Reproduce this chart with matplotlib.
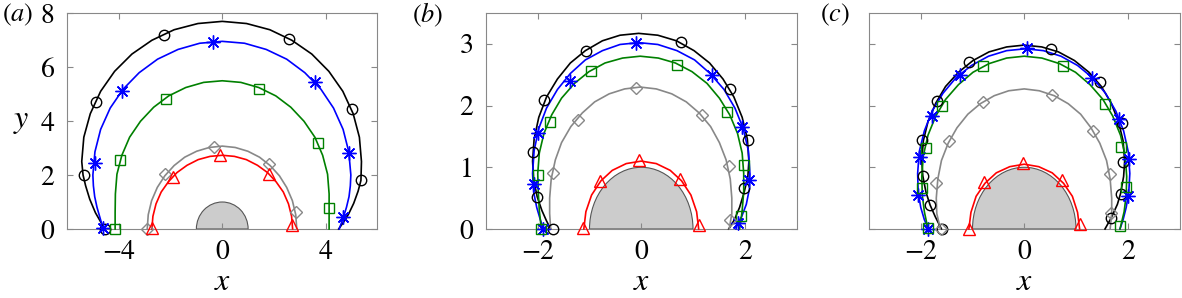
import numpy as np
import matplotlib.pyplot as plt
from matplotlib.patches import Wedge

plt.rcParams['font.family'] = ['STIXGeneral', 'DejaVu Serif']
plt.rcParams['mathtext.fontset'] = 'stix'

# ---------------- panel (a) ----------------
a_black_x = [-4.55, -4.72, -4.9, -5.12, -5.28, -5.38, -5.43, -5.35, -5.10, -4.70, -4.16, -3.49, -2.72, -1.86, -0.94, 0.0,
             0.94, 1.84, 2.69, 3.46, 4.12, 4.66, 5.06, 5.30, 5.38, 5.36, 5.25, 5.08, 4.88, 4.72, 4.5]
a_black_y = [0.0, 0.3, 0.6, 1.1, 1.6, 2.0, 2.5, 3.40, 4.27, 5.10, 5.84, 6.48, 6.99, 7.38, 7.61, 7.69,
             7.61, 7.38, 6.99, 6.48, 5.84, 5.10, 4.27, 3.40, 2.5, 1.8, 1.4, 0.95, 0.55, 0.3, 0.0]
a_black_mx = [-4.52, -5.34, -4.89, -2.24, 2.58, 5.02, 5.36]
a_black_my = [0.0, 2.0, 4.7, 7.2, 7.04, 4.46, 1.8]

a_blue_x = [-4.6, -4.72, -4.84, -4.93, -4.98, -5.0, -4.92, -4.70, -4.33, -3.83, -3.21, -2.5, -1.71, -0.87, 0.0,
            0.86, 1.70, 2.49, 3.19, 3.81, 4.30, 4.67, 4.89, 4.97, 4.95, 4.9, 4.8, 4.67, 4.52]
a_blue_y = [0.0, 0.4, 0.8, 1.2, 1.6, 2.0, 2.86, 3.69, 4.48, 5.18, 5.79, 6.29, 6.65, 6.88, 6.95,
            6.88, 6.65, 6.29, 5.79, 5.18, 4.48, 3.69, 2.86, 2.0, 1.6, 1.2, 0.8, 0.4, 0.0]
a_blue_mx = [-4.6, -4.93, -3.88, -0.37, 3.57, 4.9, 4.65]
a_blue_my = [0.05, 2.45, 5.12, 6.91, 5.45, 2.83, 0.43]

a_green_x = [-4.14, -4.14, -4.13, -4.07, -3.88, -3.58, -3.16, -2.65, -2.07, -1.41, -0.72, 0.0,
             0.72, 1.41, 2.07, 2.65, 3.16, 3.58, 3.88, 4.07, 4.13, 4.13, 4.13]
a_green_y = [0.0, 0.6, 1.3, 2.03, 2.73, 3.40, 3.99, 4.51, 4.93, 5.24, 5.43, 5.49,
             5.43, 5.24, 4.93, 4.51, 3.99, 3.40, 2.73, 2.03, 1.3, 0.6, 0.0]
a_green_mx = [-4.14, -3.96, -2.17, 1.41, 3.69, 4.12]
a_green_my = [0.01, 2.57, 4.82, 5.2, 3.2, 0.76]

a_gray_x = [-2.9, -2.86, -2.73, -2.51, -2.22, -1.86, -1.45, -0.99, -0.50, 0.0,
            0.50, 0.99, 1.44, 1.85, 2.21, 2.49, 2.71, 2.84, 2.88]
a_gray_y = [0.0, 0.53, 1.05, 1.54, 1.97, 2.35, 2.66, 2.88, 3.02, 3.07,
            3.02, 2.88, 2.66, 2.35, 1.97, 1.54, 1.05, 0.53, 0.0]
a_gray_mx = [-2.89, -2.23, -0.3, 1.8, 2.84]
a_gray_my = [0.01, 2.04, 3.04, 2.39, 0.62]

a_red_x = [-2.72, -2.68, -2.56, -2.36, -2.08, -1.75, -1.36, -0.93, -0.47, 0.0,
           0.47, 0.93, 1.36, 1.75, 2.08, 2.36, 2.56, 2.68, 2.72]
a_red_y = [0.0, 0.47, 0.93, 1.37, 1.75, 2.09, 2.36, 2.57, 2.69, 2.73,
           2.69, 2.57, 2.36, 2.09, 1.75, 1.37, 0.93, 0.47, 0.0]
a_red_mx = [-2.72, -1.92, -0.07, 1.8, 2.71]
a_red_my = [0.05, 1.93, 2.73, 2.02, 0.15]

# ---------------- panel (b) ----------------
b_black_x = [-1.75, -1.83, -1.92, -2.01, -2.08, -2.1, -2.07, -1.98, -1.83, -1.62, -1.37, -1.08, -0.75, -0.41, -0.05,
             0.32, 0.68, 1.02, 1.32, 1.58, 1.79, 1.95, 2.05, 2.08, 2.06, 1.99, 1.9, 1.8, 1.69]
b_black_y = [0.0, 0.13, 0.3, 0.52, 0.8, 1.1, 1.46, 1.81, 2.14, 2.43, 2.69, 2.89, 3.05, 3.14, 3.17,
             3.14, 3.05, 2.89, 2.69, 2.43, 2.14, 1.81, 1.46, 1.1, 0.85, 0.6, 0.35, 0.15, 0.0]
b_black_mx = [-1.71, -2.01, -2.1, -1.88, -1.06, 0.76, 1.72, 2.06, 1.99]
b_black_my = [0.0, 0.52, 1.24, 2.09, 2.89, 3.03, 2.27, 1.45, 0.67]

b_blue_x = [-1.89, -1.95, -2.02, -2.08, -2.1, -2.07, -1.98, -1.83, -1.62, -1.37, -1.08, -0.75, -0.41, -0.05,
            0.32, 0.69, 1.03, 1.33, 1.60, 1.81, 1.97, 2.07, 2.10, 2.09, 2.03, 1.94, 1.86, 1.83]
b_blue_y = [0.0, 0.15, 0.35, 0.6, 0.9, 1.27, 1.63, 1.96, 2.26, 2.52, 2.74, 2.89, 2.99, 3.02,
            2.99, 2.89, 2.74, 2.52, 2.26, 1.96, 1.63, 1.27, 0.9, 0.65, 0.4, 0.2, 0.09, 0.0]
b_blue_mx = [-1.89, -2.08, -2.0, -1.38, -0.11, 1.37, 1.95, 2.09, 1.86]
b_blue_my = [0.0, 0.73, 1.56, 2.4, 3.02, 2.5, 1.65, 0.79, 0.09]

b_green_x = [-1.93, -1.97, -1.99, -2.0, -1.97, -1.88, -1.73, -1.54, -1.29, -1.01, -0.70, -0.36, -0.02,
             0.33, 0.66, 0.98, 1.27, 1.51, 1.71, 1.86, 1.95, 1.98, 1.98, 1.95, 1.92, 1.9]
b_green_y = [0.0, 0.3, 0.6, 0.9, 1.23, 1.55, 1.85, 2.12, 2.36, 2.55, 2.69, 2.77, 2.8,
             2.77, 2.69, 2.55, 2.36, 2.12, 1.85, 1.55, 1.23, 0.9, 0.6, 0.3, 0.1, 0.0]
b_green_mx = [-1.93, -2.0, -1.77, -0.97, 0.69, 1.65, 1.98, 1.93]
b_green_my = [0.0, 0.87, 1.74, 2.56, 2.66, 1.9, 1.03, 0.21]

b_gray_x = [-1.75, -1.77, -1.77, -1.74, -1.66, -1.54, -1.36, -1.14, -0.90, -0.62, -0.32, -0.02,
            0.29, 0.59, 0.87, 1.12, 1.34, 1.51, 1.64, 1.72, 1.75, 1.75, 1.72, 1.7]
b_gray_y = [0.0, 0.25, 0.5, 0.81, 1.12, 1.4, 1.66, 1.88, 2.06, 2.19, 2.27, 2.3,
            2.27, 2.19, 2.06, 1.88, 1.66, 1.4, 1.12, 0.81, 0.5, 0.25, 0.1, 0.0]
b_gray_mx = [-1.71, -1.22, -0.11, 1.18, 1.69, 1.72]
b_gray_my = [0.91, 1.76, 2.29, 1.85, 1.02, 0.15]

b_red_x = [-1.11, -1.07, -0.96, -0.78, -0.56, -0.29, 0.0, 0.29, 0.56, 0.78, 0.96, 1.07, 1.11]
b_red_y = [0.0, 0.28, 0.55, 0.78, 0.95, 1.06, 1.1, 1.06, 0.95, 0.78, 0.55, 0.28, 0.0]
b_red_mx = [-1.13, -0.79, -0.05, 0.74, 1.11]
b_red_my = [0.01, 0.78, 1.12, 0.81, 0.06]

# ---------------- panel (c) ----------------
c_black_x = [-1.6, -1.72, -1.82, -1.9, -1.96, -1.98, -1.95, -1.86, -1.71, -1.52, -1.27, -0.99, -0.68, -0.34, 0.0,
             0.34, 0.66, 0.97, 1.25, 1.49, 1.68, 1.82, 1.91, 1.94, 1.92, 1.86, 1.8, 1.68, 1.56]
c_black_y = [0.0, 0.2, 0.39, 0.6, 0.86, 1.1, 1.43, 1.74, 2.04, 2.31, 2.54, 2.73, 2.87, 2.95, 2.98,
             2.95, 2.87, 2.73, 2.54, 2.31, 2.04, 1.74, 1.43, 1.1, 0.85, 0.57, 0.4, 0.18, 0.0]
c_black_mx = [-1.58, -1.82, -1.95, -1.97, -1.68, -1.06, 0.52, 1.46, 1.88, 1.91, 1.86, 1.68]
c_black_my = [0.0, 0.39, 0.86, 1.45, 2.07, 2.7, 2.92, 2.38, 1.71, 1.09, 0.57, 0.18]

c_blue_x = [-1.85, -1.93, -2.0, -2.05, -2.06, -2.03, -1.93, -1.78, -1.57, -1.32, -1.02, -0.69, -0.34, 0.02,
            0.37, 0.71, 1.03, 1.32, 1.57, 1.77, 1.92, 2.01, 2.04, 2.02, 1.97, 1.91, 1.85]
c_blue_y = [0.0, 0.15, 0.35, 0.6, 0.9, 1.25, 1.59, 1.91, 2.2, 2.45, 2.65, 2.8, 2.89, 2.92,
            2.89, 2.8, 2.65, 2.45, 2.2, 1.91, 1.59, 1.25, 0.9, 0.6, 0.35, 0.15, 0.0]
c_blue_mx = [-1.86, -2.05, -2.02, -1.79, -1.24, 0.06, 1.31, 1.84, 2.02, 2.0]
c_blue_my = [0.0, 0.55, 1.17, 1.83, 2.49, 2.93, 2.45, 1.78, 1.13, 0.53]

c_green_x = [-1.86, -1.93, -1.97, -1.98, -1.95, -1.86, -1.71, -1.52, -1.27, -0.99, -0.68, -0.34, 0.0,
             0.34, 0.68, 0.99, 1.27, 1.52, 1.71, 1.86, 1.95, 1.98, 1.97, 1.93, 1.85]
c_green_y = [0.0, 0.28, 0.55, 0.85, 1.19, 1.52, 1.83, 2.1, 2.34, 2.54, 2.68, 2.77, 2.8,
             2.77, 2.68, 2.54, 2.34, 2.1, 1.83, 1.52, 1.19, 0.85, 0.55, 0.28, 0.0]
c_green_mx = [-1.86, -1.97, -1.9, -1.58, -0.8, 0.75, 1.56, 1.87, 1.97, 1.85]
c_green_my = [0.02, 0.66, 1.32, 2.0, 2.64, 2.64, 2.02, 1.33, 0.68, 0.05]

c_gray_x = [-1.62, -1.69, -1.7, -1.67, -1.6, -1.47, -1.30, -1.09, -0.85, -0.58, -0.3, 0.0,
            0.29, 0.58, 0.85, 1.09, 1.29, 1.46, 1.59, 1.66, 1.69, 1.69, 1.66]
c_gray_y = [0.0, 0.25, 0.5, 0.81, 1.11, 1.39, 1.64, 1.86, 2.03, 2.16, 2.24, 2.27,
            2.24, 2.16, 2.03, 1.86, 1.64, 1.39, 1.11, 0.81, 0.5, 0.25, 0.0]
c_gray_mx = [-1.6, -1.7, -1.46, -0.8, 0.54, 1.33, 1.65, 1.68]
c_gray_my = [0.0, 0.75, 1.42, 2.05, 2.17, 1.59, 0.89, 0.26]

c_red_x = [-1.07, -1.03, -0.93, -0.76, -0.54, -0.28, 0.0, 0.28, 0.54, 0.76, 0.93, 1.03, 1.07]
c_red_y = [0.0, 0.27, 0.53, 0.74, 0.91, 1.01, 1.05, 1.01, 0.91, 0.74, 0.53, 0.27, 0.0]
c_red_mx = [-1.07, -0.77, -0.03, 0.73, 1.07]
c_red_my = [0.0, 0.76, 1.07, 0.79, 0.08]

styles = [('k', 'o', 7.5), ('#0000ff', (8, 2, 0), 10), ('#008000', 's', 6.5),
          ('#888888', 'D', 6.5), ('#ff0000', '^', 8)]

panels = [
    ('a', [-6, 6], [0, 8], [-4, 0, 4], [0, 2, 4, 6, 8], True,
     [(a_black_x, a_black_y, a_black_mx, a_black_my),
      (a_blue_x, a_blue_y, a_blue_mx, a_blue_my),
      (a_green_x, a_green_y, a_green_mx, a_green_my),
      (a_gray_x, a_gray_y, a_gray_mx, a_gray_my),
      (a_red_x, a_red_y, a_red_mx, a_red_my)]),
    ('b', [-3, 3], [0, 3.5], [-2, 0, 2], [0, 1, 2, 3], True,
     [(b_black_x, b_black_y, b_black_mx, b_black_my),
      (b_blue_x, b_blue_y, b_blue_mx, b_blue_my),
      (b_green_x, b_green_y, b_green_mx, b_green_my),
      (b_gray_x, b_gray_y, b_gray_mx, b_gray_my),
      (b_red_x, b_red_y, b_red_mx, b_red_my)]),
    ('c', [-3, 3], [0, 3.5], [-2, 0, 2], [0, 1, 2, 3], False,
     [(c_black_x, c_black_y, c_black_mx, c_black_my),
      (c_blue_x, c_blue_y, c_blue_mx, c_blue_my),
      (c_green_x, c_green_y, c_green_mx, c_green_my),
      (c_gray_x, c_gray_y, c_gray_mx, c_gray_my),
      (c_red_x, c_red_y, c_red_mx, c_red_my)]),
]

lefts = [67, 486, 869]
lab_x = [2, 412, 820]
fig = plt.figure(figsize=(11.82, 2.98), dpi=100)

for i, (lab, xl, yl, xt, yt, ylab, series) in enumerate(panels):
    ax = fig.add_axes([lefts[i] / 1182, 69 / 298, 310.5 / 1182, 216 / 298])
    ax.add_patch(Wedge((0, 0), 1, 0, 180, facecolor='#cccccc',
                       edgecolor='#555555', lw=0.8, zorder=1))
    for (x, y, mx, my), (col, mk, ms) in zip(series, styles):
        ax.plot(x, y, color=col, lw=1.2, zorder=3, clip_on=False)
        ax.plot(mx, my, ls='none', marker=mk, ms=ms, mfc='none', mec=col,
                mew=1.0, zorder=4, clip_on=False)
    ax.set_xlim(xl)
    ax.set_ylim(yl)
    ax.set_xticks(xt)
    ax.set_yticks(yt)
    if not ylab:
        ax.set_yticklabels([])
    ax.tick_params(direction='in', top=True, right=True, length=4,
                   width=0.8, color='#888888', labelsize=20)
    ax.tick_params(axis='x', pad=8)
    ax.tick_params(axis='y', pad=9)
    for s in ax.spines.values():
        s.set_color('#888888')
        s.set_linewidth(0.8)
    ax.set_xlabel('$x$', fontsize=23, labelpad=2)
    if i == 0:
        ax.set_ylabel('$y$', fontsize=23, rotation=0, labelpad=14, va='center')
    fig.text(lab_x[i] / 1182, 1 - 15 / 298, '$(' + lab + ')$', fontsize=19,
             va='center', ha='left')

fig.savefig('out.png', dpi=100)
